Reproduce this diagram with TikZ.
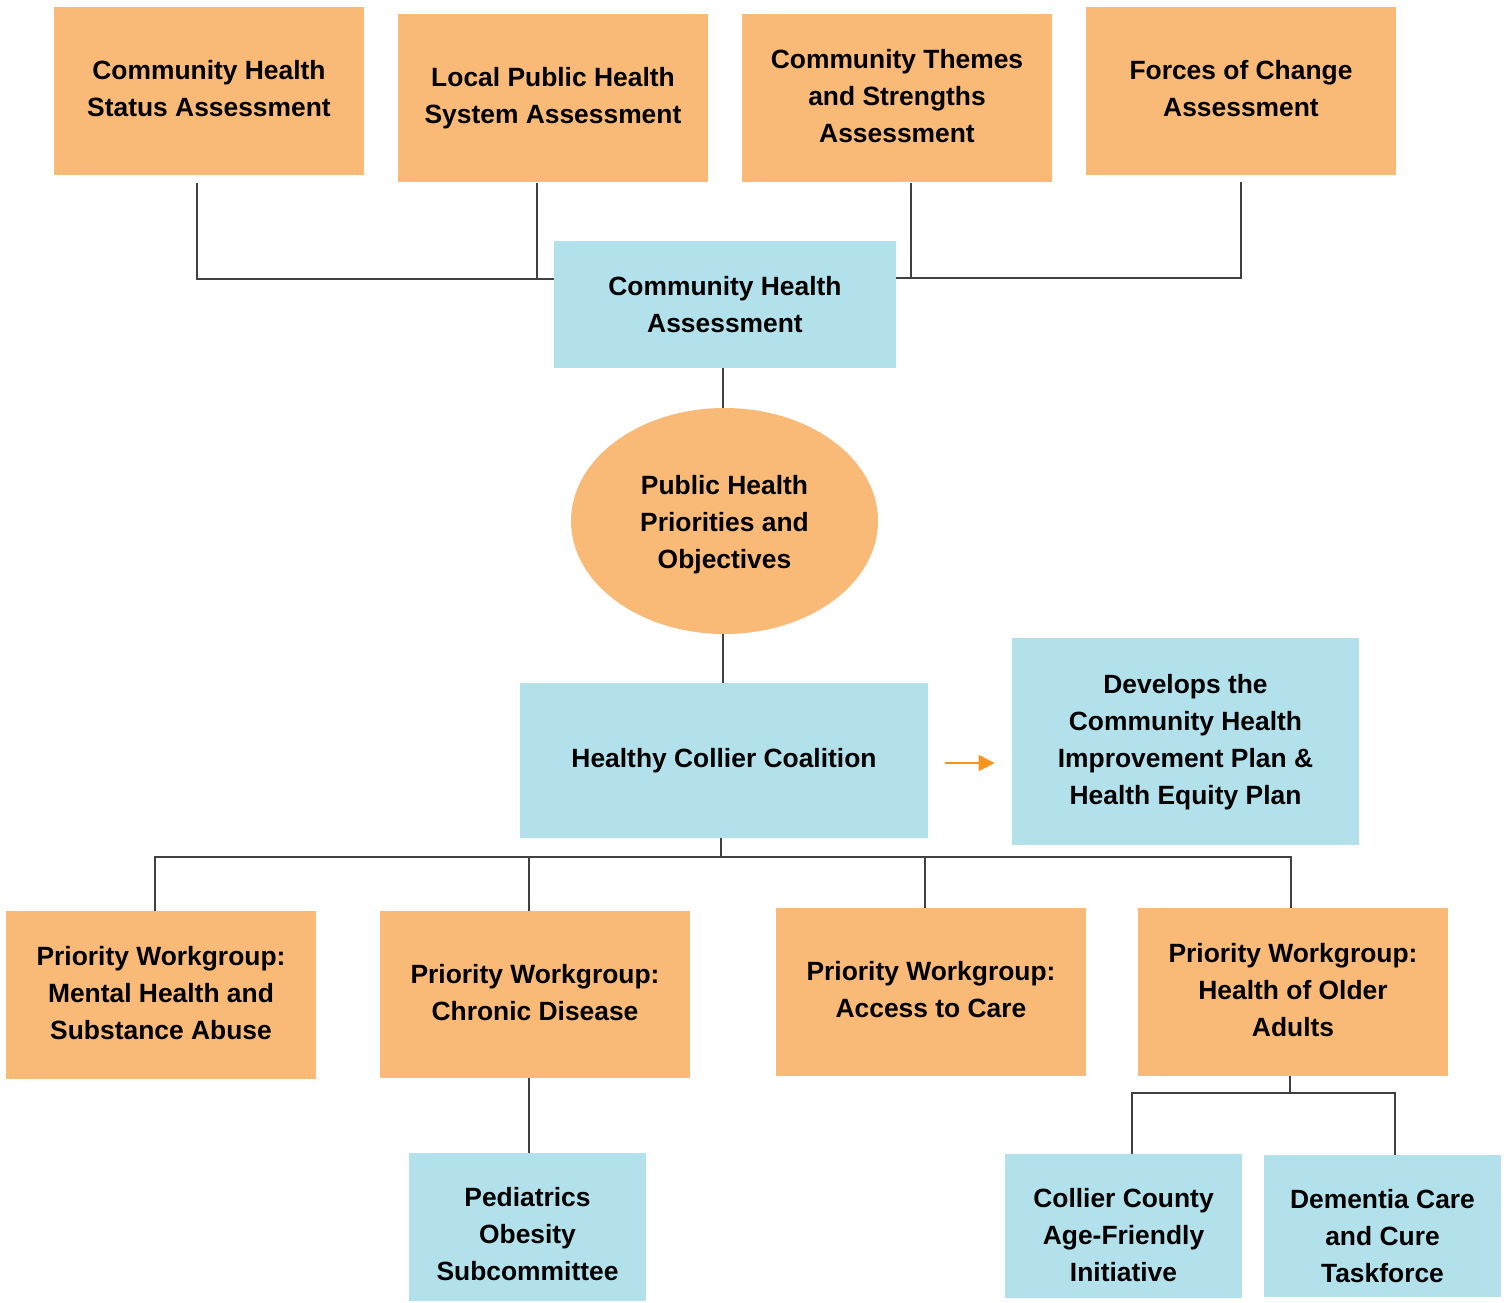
\documentclass[tikz,border=0pt]{standalone}
\usepackage{fontspec}
\setmainfont{Liberation Sans}
\usetikzlibrary{shapes.geometric,arrows.meta}
\definecolor{boxorange}{HTML}{F9BA78}
\definecolor{boxblue}{HTML}{B2E1EC}
\definecolor{linegray}{HTML}{404040}
\definecolor{arroworange}{HTML}{F7941D}
\newcommand{\boxtext}[2][0pt]{\raisebox{-#1}[\height][\depth]{\begin{tabular}{@{}c@{}}#2\end{tabular}}}
\tikzset{
  base/.style={inner sep=0pt, align=center, font=\fontsize{13.2}{18.5}\selectfont\bfseries, text=black},
  obox/.style={base, rectangle, fill=boxorange},
  bbox/.style={base, rectangle, fill=boxblue},
  oell/.style={base, ellipse, fill=boxorange},
  conn/.style={draw=linegray, line width=1pt},
  flow/.style={draw=arroworange, line width=0.8pt, -{Triangle[length=8pt,width=8pt]}}
}
\begin{document}
\begin{tikzpicture}[x=0.5pt,y=-0.5pt]
\useasboundingbox (0,0) rectangle (1507,1302);
% top row
\node[obox, minimum width=155pt, minimum height=84pt] (chsa) at (209,91) {\boxtext{Community Health\\Status Assessment}};
\node[obox, minimum width=155pt, minimum height=84pt] (lphsa) at (553,98) {\boxtext{Local Public Health\\System Assessment}};
\node[obox, minimum width=155pt, minimum height=84pt] (ctsa) at (897,98) {\boxtext{Community Themes\\and Strengths\\Assessment}};
\node[obox, minimum width=155pt, minimum height=84pt] (foc) at (1241,91) {\boxtext{Forces of Change\\Assessment}};
% centre column
\node[bbox, minimum width=171pt, minimum height=63.5pt] (cha) at (725,304.5) {\boxtext[1pt]{Community Health\\Assessment}};
\node[oell, minimum width=153.5pt, minimum height=113pt] (ell) at (724.5,521) {\boxtext[1.5pt]{Public Health\\Priorities and\\Objectives}};
\node[bbox, minimum width=204pt, minimum height=77.5pt] (hcc) at (724,760.5) {\boxtext{Healthy Collier Coalition}};
\node[bbox, minimum width=173.5pt, minimum height=103.5pt] (dev) at (1185.5,741.5) {\boxtext{Develops the\\Community Health\\Improvement Plan \&\\Health Equity Plan}};
% workgroups
\node[obox, minimum width=155pt, minimum height=84pt] (pw1) at (161,995) {\boxtext{Priority Workgroup:\\Mental Health and\\Substance Abuse}};
\node[obox, minimum width=155pt, minimum height=83.5pt] (pw2) at (535,994.5) {\boxtext{Priority Workgroup:\\Chronic Disease}};
\node[obox, minimum width=155pt, minimum height=84pt] (pw3) at (931,992) {\boxtext{Priority Workgroup:\\Access to Care}};
\node[obox, minimum width=155pt, minimum height=84pt] (pw4) at (1293,992) {\boxtext{Priority Workgroup:\\Health of Older\\Adults}};
% subgroups
\node[bbox, minimum width=118.5pt, minimum height=74pt] (ped) at (527.5,1227) {\boxtext[4.5pt]{Pediatrics\\Obesity\\Subcommittee}};
\node[bbox, minimum width=118.5pt, minimum height=72pt] (cca) at (1123.5,1226) {\boxtext[5.5pt]{Collier County\\Age-Friendly\\Initiative}};
\node[bbox, minimum width=118.5pt, minimum height=71pt] (dem) at (1382.5,1226) {\boxtext[6pt]{Dementia Care\\and Cure\\Taskforce}};
% bus coordinates
\coordinate (busL) at (0,279);
\coordinate (busR) at (0,277.5);
\coordinate (busM) at (0,856.5);
\coordinate (busS) at (0,1093);
% top connectors
\draw[conn] ([xshift=-6pt,yshift=-4pt]chsa.south) |- (cha.west |- busL);
\draw[conn] ([xshift=-8pt,yshift=-0.5pt]lphsa.south) -- ([xshift=-8pt]lphsa.south |- busL);
\draw[conn] ([xshift=7pt,yshift=-0.5pt]ctsa.south) -- ([xshift=7pt]ctsa.south |- busR);
\draw[conn] ([yshift=-3.5pt]foc.south) |- (cha.east |- busR);
% centre column
\draw[conn] ([xshift=-1pt]cha.south) -- ([xshift=-1pt]cha.south |- ell.north);
\draw[conn] ([xshift=-0.75pt]ell.south) -- ([xshift=-0.75pt]ell.south |- hcc.north);
\draw[flow] ([xshift=8.5pt,yshift=-1.25pt]hcc.east) -- ([xshift=-8.5pt,yshift=-1.25pt]hcc.east -| dev.west);
% workgroup bus
\draw[conn] ([xshift=-1.5pt]hcc.south) -- ([xshift=-1.5pt]hcc.south |- busM);
\draw[conn] ([xshift=-3pt]pw1.north) |- ([xshift=-1pt]pw4.north |- busM) -- ([xshift=-1pt]pw4.north);
\draw[conn] ([xshift=-3pt]pw2.north) -- ([xshift=-3pt]pw2.north |- busM);
\draw[conn] ([xshift=-3pt]pw3.north) -- ([xshift=-3pt]pw3.north |- busM);
% subgroups
\draw[conn] ([xshift=-3pt]pw2.south) -- ([xshift=-3pt]pw2.south |- ped.north);
\draw[conn] ([xshift=-1.5pt]pw4.south) -- ([xshift=-1.5pt]pw4.south |- busS);
\draw[conn] ([xshift=4.25pt]cca.north) |- ([xshift=6.25pt]dem.north |- busS) -- ([xshift=6.25pt]dem.north);
\end{tikzpicture}
\end{document}
